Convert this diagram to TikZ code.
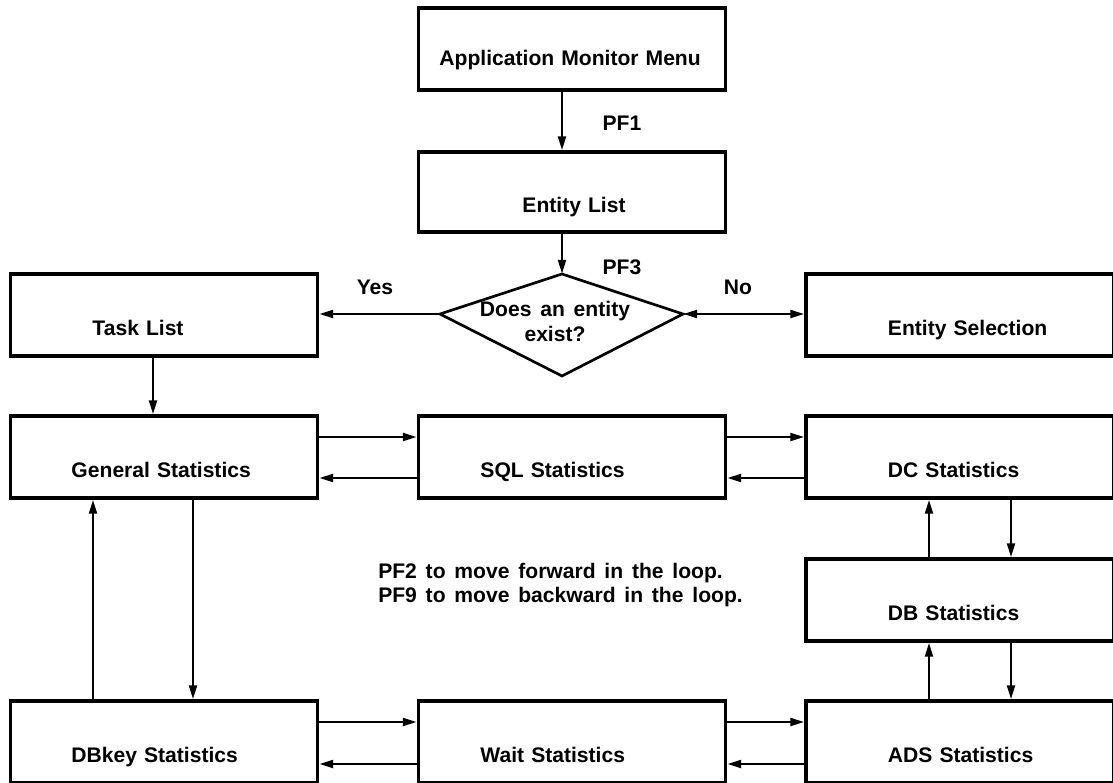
\documentclass[tikz,border=0pt]{standalone}
\usepackage{fontspec}
\setmainfont{Liberation Sans}[WordSpace=2.3]
\newfontfamily\hintfont{Liberation Sans}[WordSpace=1.5]
\usetikzlibrary{arrows.meta}
\tikzset{
  box/.style={draw, line width=2.2pt, text width=7.675cm, inner xsep=0pt, inner ysep=0pt,
    align=left, minimum height=2.05cm, text height=1.025cm, text depth=0pt,
    execute at begin node={\hspace*{#1}}},
  box/.default=2.05cm,
  flow/.style={line width=1.9pt, -{Triangle[length=10pt,width=5.5pt]}},
  twoway/.style={line width=1.9pt, {Triangle[length=10pt,width=5.5pt]}-{Triangle[length=10pt,width=5.5pt]}}
}
\begin{document}
\begin{tikzpicture}[x=0.025cm, y=-0.025cm, font=\fontsize{15pt}{17.8pt}\selectfont\bfseries]
\useasboundingbox (0,0) rectangle (1113,783);
% menu and entity list
\node[box=0.525cm, text height=0.825cm] (amm) at (572,49) {Application Monitor Menu};
\node[box=2.6cm, minimum height=2cm] (ent) at (572,192) {Entity List};
% decision
\coordinate (dtop) at (562,274);
\coordinate (dleft) at (440,314);
\coordinate (dright) at (683,314);
\coordinate (dbot) at (562,376);
\draw[line width=1.9pt] (dtop) -- (dleft) -- (dbot) -- (dright) -- cycle;
\node[align=center, inner sep=0pt, font=\fontsize{15pt}{17.8pt}\hintfont\bfseries] (ask) at (555,321) {Does an entity\\exist?};
\node[box] (task) at (164,315) {Task List};
\node[box] (sel) at (959.5,315) {Entity Selection};
% statistics loop
\node[box=1.525cm] (gen) at (164,457) {General Statistics};
\node[box=1.55cm] (sql) at (572,457) {SQL Statistics};
\node[box] (dc) at (959.5,457) {DC Statistics};
\node[box] (db) at (959.5,600) {DB Statistics};
\node[box=1.525cm] (dbkey) at (164,742) {DBkey Statistics};
\node[box=1.55cm] (wait) at (572,742) {Wait Statistics};
\node[box] (ads) at (959.5,742) {ADS Statistics};
\node[align=left, anchor=west, inner sep=0pt, font=\fontsize{15pt}{17pt}\hintfont\bfseries] (hint) at (378,585)
  {PF2 to move forward in the loop.\\PF9 to move backward in the loop.};
% connectors
\draw[flow] (amm.south -| 562,0) -- (ent.north -| 562,0);
\node (pfone) at (622,123) {PF1};
\draw[flow] (ent.south -| dtop) -- (dtop);
\node (pfthree) at (622,267) {PF3};
\draw[flow] (dleft) -- (task.east |- dleft);
\draw[twoway] (dright) -- (sel.west |- dright);
\node (yes) at (375,287) {Yes};
\node (no) at (738,287) {No};
\draw[flow] (task.south -| 153,0) -- (gen.north -| 153,0);
\draw[flow] (gen.east |- 0,437) -- (sql.west |- 0,437);
\draw[flow] (sql.west |- 0,478) -- (gen.east |- 0,478);
\draw[flow] (sql.east |- 0,437) -- (dc.west |- 0,437);
\draw[flow] (dc.west |- 0,478) -- (sql.east |- 0,478);
\draw[flow] (dc.south -| 1011,0) -- (db.north -| 1011,0);
\draw[flow] (db.north -| 929,0) -- (dc.south -| 929,0);
\draw[flow] (db.south -| 1011,0) -- (ads.north -| 1011,0);
\draw[flow] (ads.north -| 929,0) -- (db.south -| 929,0);
\draw[flow] (gen.south -| 193,0) -- (dbkey.north -| 193,0);
\draw[flow] (dbkey.north -| 93,0) -- (gen.south -| 93,0);
\draw[flow] (dbkey.east |- 0,722) -- (wait.west |- 0,722);
\draw[flow] (wait.west |- 0,764) -- (dbkey.east |- 0,764);
\draw[flow] (wait.east |- 0,722) -- (ads.west |- 0,722);
\draw[flow] (ads.west |- 0,764) -- (wait.east |- 0,764);
\end{tikzpicture}
\end{document}
